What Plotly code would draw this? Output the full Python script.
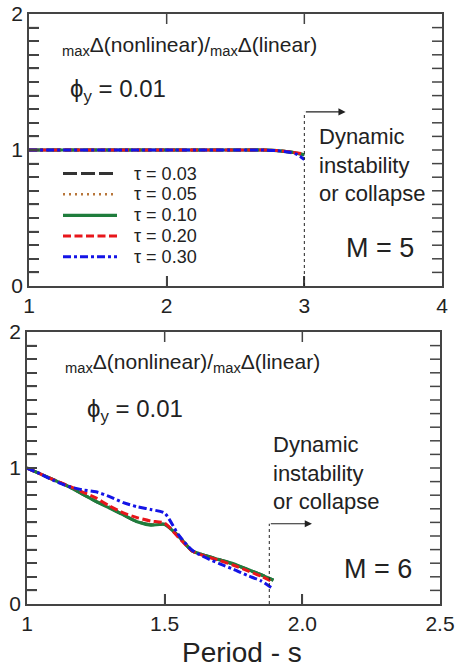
import plotly.graph_objects as go
from plotly.subplots import make_subplots

# ---------------- data ----------------
tau_labels = ["τ = 0.03", "τ = 0.05", "τ = 0.10", "τ = 0.20", "τ = 0.30"]

# M = 5 panel
period_m5 = [1.0, 1.5, 2.0, 2.5, 2.7, 2.8, 2.9, 2.95, 3.0]
m5_tau003 = [1.0, 1.0, 1.0, 1.0, 1.0, 0.996, 0.985, 0.975, 0.965]
m5_tau005 = [1.0, 1.0, 1.0, 1.0, 1.0, 0.996, 0.985, 0.976, 0.966]
m5_tau010 = [1.0, 1.0, 1.0, 1.0, 1.0, 0.996, 0.985, 0.975, 0.965]
m5_tau020 = [1.0, 1.0, 1.0, 1.0, 1.0, 0.996, 0.986, 0.978, 0.970]
m5_tau030 = [1.0, 1.0, 1.0, 1.0, 1.0, 0.995, 0.982, 0.966, 0.930]

# M = 6 panel
period_m6 = [1.0, 1.05, 1.1, 1.15, 1.2, 1.25, 1.3, 1.35, 1.4, 1.45, 1.5,
             1.55, 1.6, 1.65, 1.7, 1.75, 1.8, 1.85, 1.895]
m6_tau003 = [1.0, 0.955, 0.91, 0.865, 0.81, 0.755, 0.71, 0.655, 0.605, 0.582, 0.587,
             0.50, 0.39, 0.355, 0.325, 0.293, 0.255, 0.215, 0.175]
m6_tau005 = [1.0, 0.955, 0.91, 0.866, 0.812, 0.758, 0.712, 0.658, 0.608, 0.585, 0.588,
             0.50, 0.39, 0.354, 0.324, 0.291, 0.253, 0.213, 0.172]
m6_tau010 = [1.0, 0.955, 0.91, 0.865, 0.81, 0.755, 0.705, 0.655, 0.605, 0.58, 0.585,
             0.50, 0.39, 0.355, 0.325, 0.295, 0.255, 0.215, 0.175]
m6_tau020 = [1.0, 0.955, 0.91, 0.87, 0.825, 0.78, 0.72, 0.67, 0.635, 0.61, 0.595,
             0.49, 0.39, 0.35, 0.32, 0.285, 0.245, 0.205, 0.16]
m6_tau030 = [1.0, 0.955, 0.905, 0.865, 0.84, 0.825, 0.79, 0.745, 0.715, 0.695, 0.668,
             0.51, 0.395, 0.34, 0.295, 0.255, 0.21, 0.17, 0.11]

# axis ranges and ticks
x_range_m5 = [1, 4]
x_range_m6 = [1, 2.5]
y_range = [0, 2]
x_ticks_m5 = [1, 2, 3, 4]
x_ticks_m6 = [1, 1.5, 2, 2.5]
x_ticktext_m6 = ["1", "1.5", "2.0", "2.5"]
y_tick_vals = [i / 10 for i in range(21)]
y_tick_text = [str(int(v)) if abs(v - round(v)) < 1e-9 else "" for v in y_tick_vals]

# limits of stable response
limit_m5 = 3.0
limit_m6 = 1.88

# ---------------- styles ----------------
FONT = "Liberation Sans, Arial, sans-serif"
TXT = "#222222"
AX = "#444444"
styles = [
    dict(color="#333333", width=3, dash="14px,4px"),
    dict(color="#b8763a", width=2.5, dash="2px,4px"),
    dict(color="#1f7d3c", width=3.2, dash="solid"),
    dict(color="#e8161b", width=3, dash="8px,3.5px"),
    dict(color="#1414e6", width=3, dash="8px,3px,3px,3px"),
]

# panel geometry (pixels in the 457 x 668 figure)
W, H = 457, 668
top_px = dict(x0=29, x1=442, y0=14, y1=286)
bot_px = dict(x0=27, x1=440, y0=332, y1=604)
TICK_PX = 10

fig = make_subplots(rows=2, cols=1)

m5_series = [m5_tau003, m5_tau005, m5_tau010, m5_tau020, m5_tau030]
m6_series = [m6_tau003, m6_tau005, m6_tau010, m6_tau020, m6_tau030]

for name, ys, st in zip(tau_labels, m5_series, styles):
    fig.add_trace(go.Scatter(x=period_m5, y=ys, mode="lines", name=name,
                             line=dict(shape="spline", smoothing=0.6, **st),
                             showlegend=False), row=1, col=1)
for name, ys, st in zip(tau_labels, m6_series, styles):
    fig.add_trace(go.Scatter(x=period_m6, y=ys, mode="lines", name=name,
                             line=dict(shape="spline", smoothing=0.6, **st),
                             showlegend=False), row=2, col=1)

axis_common = dict(
    showline=True, linecolor=AX, linewidth=1.5, mirror=True,
    ticks="inside", ticklen=TICK_PX, tickwidth=1.5, tickcolor=AX,
    showgrid=False, zeroline=False, automargin=False,
    tickfont=dict(family=FONT, size=21, color=TXT),
)

fig.update_xaxes(domain=[top_px["x0"]/W, top_px["x1"]/W], range=x_range_m5,
                 tickvals=x_ticks_m5, ticktext=[str(v) for v in x_ticks_m5],
                 row=1, col=1, **axis_common)
fig.update_xaxes(domain=[bot_px["x0"]/W, bot_px["x1"]/W], range=x_range_m6,
                 tickvals=x_ticks_m6, ticktext=x_ticktext_m6, row=2, col=1, **axis_common)
for r, p in [(1, top_px), (2, bot_px)]:
    fig.update_yaxes(domain=[1 - p["y1"]/H, 1 - p["y0"]/H], range=y_range,
                     tickvals=y_tick_vals, ticktext=y_tick_text,
                     row=r, col=1, **axis_common)

# inside tick marks on all four sides of each panel, placed through the axes' own scales
tick_line = dict(color=AX, width=1.5)
for xr, yr, p, xrng, xticks in [("x", "y", top_px, x_range_m5, x_ticks_m5),
                                ("x2", "y2", bot_px, x_range_m6, x_ticks_m6)]:
    dx = TICK_PX * (xrng[1] - xrng[0]) / (p["x1"] - p["x0"])
    dy = TICK_PX * (y_range[1] - y_range[0]) / (p["y1"] - p["y0"])
    for v in y_tick_vals[1:-1]:
        fig.add_shape(type="line", xref=xr, yref=yr, x0=xrng[0], x1=xrng[0] + dx,
                      y0=v, y1=v, line=tick_line)
        fig.add_shape(type="line", xref=xr, yref=yr, x0=xrng[1] - dx, x1=xrng[1],
                      y0=v, y1=v, line=tick_line)
    for v in xticks[1:-1]:
        fig.add_shape(type="line", xref=xr, yref=yr, x0=v, x1=v,
                      y0=y_range[0], y1=y_range[0] + dy, line=tick_line)
        fig.add_shape(type="line", xref=xr, yref=yr, x0=v, x1=v,
                      y0=y_range[1] - dy, y1=y_range[1], line=tick_line)

# limit lines
fig.add_shape(type="line", xref="x", yref="y", x0=limit_m5, x1=limit_m5, y0=0, y1=1.28,
              line=dict(color="#222222", width=1, dash="dot"))
fig.add_shape(type="line", xref="x2", yref="y2", x0=limit_m6, x1=limit_m6, y0=0, y1=0.59,
              line=dict(color="#222222", width=1, dash="dot"))

ann = []
# arrows
ann.append(dict(xref="x", yref="y", axref="x", ayref="y", x=3.3, y=1.28, ax=limit_m5, ay=1.28,
                text="", showarrow=True, arrowhead=2, arrowsize=1.2, arrowwidth=1.2,
                arrowcolor="#222222"))
ann.append(dict(xref="x2", yref="y2", axref="x2", ayref="y2", x=2.035, y=0.59, ax=limit_m6, ay=0.59,
                text="", showarrow=True, arrowhead=2, arrowsize=1.2, arrowwidth=1.2,
                arrowcolor="#222222"))

ratio_txt = ("<sub>max</sub>Δ(nonlinear)/<sub>max</sub>Δ(linear)")
phi_txt = "ϕ<sub>y</sub> = 0.01"
dyn_txt = "Dynamic<br>instability<br>or collapse"

def txt(xref, yref, x, y, text, size):
    return dict(xref=xref, yref=yref, x=x, y=y, text=text, showarrow=False,
                xanchor="left", yanchor="middle", align="left",
                font=dict(family=FONT, size=size, color=TXT))

ann += [
    txt("x", "y", 1.225, 1.765, ratio_txt, 21),
    txt("x", "y", 1.283, 1.44, phi_txt, 24),
    txt("x", "y", 3.09, 0.89, dyn_txt, 22),
    txt("x", "y", 3.29, 0.28, "M = 5", 27),
    txt("x2", "y2", 1.131, 1.775, ratio_txt, 21),
    txt("x2", "y2", 1.211, 1.42, phi_txt, 24),
    txt("x2", "y2", 1.885, 0.963, dyn_txt, 22),
    txt("x2", "y2", 2.145, 0.257, "M = 6", 27),
    dict(xref="paper", yref="paper", x=242/W, y=1 - 652/H, text="Period - s",
         showarrow=False, xanchor="center", yanchor="middle",
         font=dict(family=FONT, size=28, color=TXT)),
]

# legend (key) inside the upper panel: sample line + label per series
leg_x0, leg_x1, leg_tx = 63/W, 117/W, 132/W
leg_rows = [173.5, 194.3, 215.3, 236.0, 256.7]
for name, st, row_y in zip(tau_labels, styles, leg_rows):
    yp = 1 - row_y/H
    fig.add_shape(type="line", xref="paper", yref="paper", x0=leg_x0, x1=leg_x1,
                  y0=yp, y1=yp, line=dict(color=st["color"], width=st["width"],
                                          dash=st["dash"]))
    ann.append(dict(xref="paper", yref="paper", x=leg_tx, y=yp, text=name,
                    showarrow=False, xanchor="left", yanchor="middle",
                    font=dict(family=FONT, size=18, color=TXT)))

fig.update_layout(
    width=W, height=H,
    margin=dict(l=0, r=0, t=0, b=0),
    paper_bgcolor="white", plot_bgcolor="white",
    annotations=ann,
    showlegend=False,
    font=dict(family=FONT, color=TXT),
)

fig.write_html("out.html")
